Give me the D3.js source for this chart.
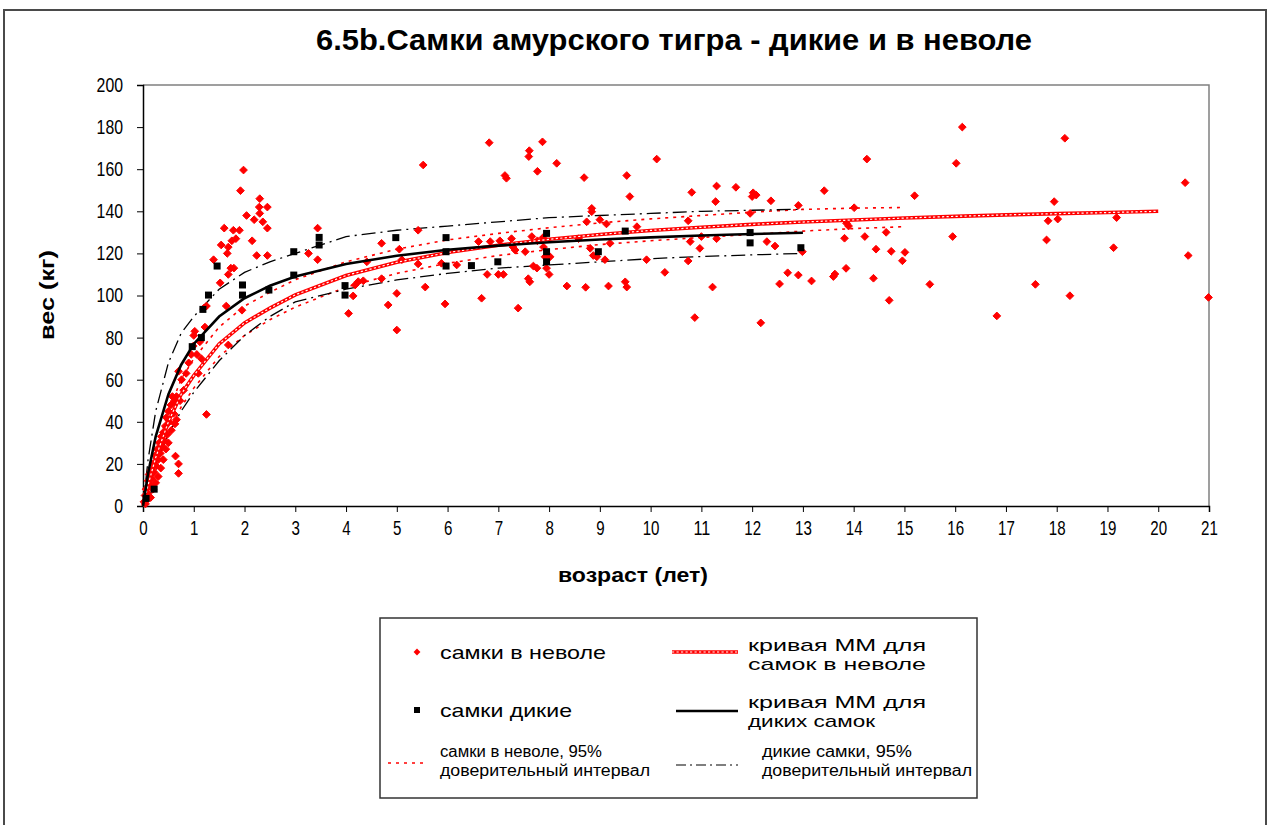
<!DOCTYPE html>
<html><head><meta charset="utf-8">
<script src="https://cdn.jsdelivr.net/npm/d3@7"></script>
<style>body{margin:0;background:#fff}svg{display:block;font-family:"Liberation Sans",Arial,sans-serif}</style>
</head><body><svg id="c" width="1270" height="825"></svg>
<script>
// ---- data ----
const xTicks = d3.range(0, 22);          // 0..21 years
const yTicks = [0,20,40,60,80,100,120,140,160,180,200];

// captive females: [age (years), weight (kg)]
const captivePoints = [
 [0.02,2],[0.04,5],[0.05,1],[0.06,8],[0.08,3],[0.1,12],[0.1,6],[0.12,15],[0.14,10],[0.15,4],
 [0.16,17],[0.18,13],[0.2,20],[0.2,8],[0.22,16],[0.24,24],[0.25,11],[0.26,19],[0.28,27],[0.3,22],
 [0.3,14],[0.32,30],[0.34,25],[0.35,18],[0.36,33],[0.38,28],[0.4,35],[0.4,22],[0.42,31],[0.44,38],
 [0.45,27],[0.46,42],[0.48,34],[0.5,45],[0.5,30],[0.52,40],[0.55,48],[0.56,36],[0.58,52],[0.6,44],
 [0.62,50],[0.63,39],[0.64,23.7],[0.66,41],[0.66,52],[0.7,20],[0.7,15.5],[0.7,64],[0.73,50],[0.76,60],
 [0.8,55],[0.85,63],[0.9,68],[0.95,72],[0.99,76],[1.02,83],[1.06,72],[1.09,63],[1.0,81],[1.12,78],
 [1.22,85],[1.25,43.5],[1.25,95],[1.2,94],[1.15,70],
 [1.98,159.6],[1.92,149.8],[2.30,146],[2.29,142],[2.45,142],[2.04,138],[2.30,139],[2.19,136],[2.36,135],[2.45,132],
 [1.60,132],[1.78,131],[1.90,131],[1.83,127],[1.75,126],[1.54,124],[1.68,123],[2.15,126],[1.66,120],[2.24,119],
 [2.45,119],[1.39,117],[1.73,113],[1.79,113],[1.68,110],[1.52,106],[1.64,95],[1.95,93],[1.68,76.5],
 [3.44,132],[3.26,120],[3.44,117],
 [4.05,91.5],[4.14,99.8],[4.18,105],[4.24,106.6],[4.34,107],[4.41,116],[4.70,124.8],[4.70,108],[4.83,95.5],[5.0,101],
 [5.0,83.6],[5.05,122],[5.10,117],[5.42,131],[5.42,115],[5.52,162],[5.56,104],[5.88,115.3],[5.95,96],[6.18,114.5],
 [6.61,125.6],[6.84,125.6],[7.03,126],[6.78,110],[7.0,110],[7.10,110],[6.67,98.7],[6.82,172.6],[7.13,157],[7.16,155.7],
 [7.26,127],[7.29,123],[7.33,121.6],[7.39,94],[7.53,120.8],[7.59,108],[7.62,106.5],[7.61,168.8],[7.60,166],[7.69,114],
 [7.76,113],[7.66,128],[7.77,126],[7.88,127.5],[7.77,159],[7.87,173],[7.89,123],[7.92,118.4],[8.02,118.4],[7.95,113],
 [8.0,110],[8.15,162.8],[8.35,104.5],[8.58,127],[8.69,156],[8.72,103.9],[8.74,135],[8.84,141.4],[8.84,139.8],[8.81,122.4],
 [8.87,119],[8.94,118.4],[9.0,136],[9.13,134],[9.20,124.8],[9.10,117],[9.17,104.5],[9.50,106.5],[9.53,104],[9.53,157],
 [9.59,147],[9.73,132.7],[9.92,117],[10.12,164.8],[10.28,111],[10.74,135.5],[10.74,116.4],[10.78,125.6],[10.81,149],[10.87,89.5],
 [10.97,122.4],[11.0,128],[11.22,104],[11.28,144.6],[11.30,152],[11.30,127],[11.68,151.4],[11.96,139],[12.02,148.8],[12.08,147.7],
 [12.0,147],[12.17,87],[12.29,125.6],[12.37,145],[12.45,123.5],[12.54,105.5],[12.70,110.8],[12.91,142.8],[12.91,109.7],[12.99,120.8],
 [13.17,106.9],[13.42,149.8],[13.60,109],[13.63,110.2],[13.85,112.9],[13.82,127.2],[13.86,134.3],[13.90,133],[14.01,141.7],[14.22,128],
 [14.26,164.8],[14.39,108.2],[14.44,122],[14.64,130],[14.70,97.7],[14.74,121],[14.96,116.5],[15.01,120.5],[15.20,147.4],[15.50,105.3],
 [15.95,128],[16.02,162.8],[16.14,180],[16.82,90.3],[17.58,105.3],[17.80,126.4],[17.83,135.5],[17.95,144.6],[18.02,136.3],[18.16,174.7],
 [18.26,99.9],[19.12,122.7],[19.18,137],[20.53,153.6],[20.59,119],[20.99,99.1]
];

// wild females: [age, weight]
const wildPoints = [
 [0.06,3.6],[0.22,8],[0.97,75.7],[1.15,80],[1.18,93.4],[1.29,100.2],[1.46,114],[1.96,105],[1.96,100.2],[2.48,102.6],
 [2.97,120.8],[2.97,109.7],[3.47,127.6],[3.47,124],[3.98,104.7],[3.98,100.2],[4.98,127.5],[5.97,127.5],[5.97,120.8],[5.97,114],
 [6.47,114.2],[6.99,116],[7.95,129.5],[7.95,120.8],[7.95,116],[8.97,120.8],[9.50,130.6],[11.96,129.9],[11.96,125],[12.96,122.7]
];

// fitted curves
const wildCurveAge   = [0,0.1,0.25,0.5,0.75,1,1.5,2,2.5,3,4,5,6,7,8,9,10,11,12,13];
const wildCurveW     = [0,15.5,33,53,67,77,90,98.7,104.6,109,115,118.9,121.7,123.7,125.3,126.6,127.6,128.5,129.2,129.8];
const wildUpperW     = [0,22,45,68,82,90,103,111,116,120,128,131,133,135,137,138,139,140,140.5,141];
const wildLowerW     = [0,8,20,34,45,54,69,81,90,97,103,107.4,110.5,113,114.5,116,117.5,118.5,119.3,120];

const capCurveAge    = [0,0.1,0.25,0.5,0.75,1,1.5,2,2.5,3,4,5,6,7,8,9,10,11,12,13,14,15,16,17,18,19,20];
const capCurveW      = [0,10,23,40,53,62,77,87,94,100.3,109.5,115.8,120.4,123.9,126.7,129,130.9,132.4,133.8,134.9,135.9,136.8,137.6,138.3,138.9,139.4,140];
const capCIAge       = [0,0.1,0.25,0.5,0.75,1,1.5,2,2.5,3,4,5,6,7,8,9,10,11,12,13,14,15];
const capUpperW      = [0,12,26,45,60,70,85,95,101.5,107.5,116,122,126.4,129.5,132.2,134.5,136.4,138,139.6,140.9,141.5,141.8];
const capLowerW      = [0,8,20,35,47,56,71,81,88.5,94.5,104,110.5,115.3,119,121.8,124.2,126,127.6,129,130.6,131.8,132.7];

// ---- drawing ----
const svg = d3.select("#c");
const x = d3.scaleLinear().domain([0,21]).range([143,1209]);
const y = d3.scaleLinear().domain([0,200]).range([506,85]);

// outer chart border
svg.append("rect").attr("x",4).attr("y",10).attr("width",1262).attr("height",830)
  .attr("fill","#fff").attr("stroke","#4a4a4a").attr("stroke-width",2);

// title
svg.append("text").attr("x",674).attr("y",50).attr("text-anchor","middle")
  .attr("font-size",29).attr("font-weight","bold")
  .attr("textLength",716).attr("lengthAdjust","spacingAndGlyphs")
  .text("6.5b.Самки амурского тигра - дикие и в неволе");

// plot frame (grey top/right)
svg.append("path").attr("d",`M${x(0)},${y(200)}H${x(21)}V${y(0)}`)
  .attr("fill","none").attr("stroke","#808080").attr("stroke-width",1.5);

// axes
const xAxis = d3.axisBottom(x).tickValues(xTicks).tickSize(6).tickFormat(d3.format("d"));
const gx = svg.append("g").attr("transform",`translate(0,${y(0)})`).call(xAxis);
gx.select(".domain").attr("stroke","#000").attr("stroke-width",1.5);
gx.selectAll(".tick line").attr("stroke","#000");
gx.selectAll(".tick text").attr("font-size",20).attr("font-family","Liberation Sans, Arial, sans-serif")
  .attr("dy","1.0em").attr("fill","#000")
  .attr("textLength",d=>String(d).length*8.4).attr("lengthAdjust","spacingAndGlyphs");

const yAxis = d3.axisLeft(y).tickValues(yTicks).tickSize(6).tickFormat(d3.format("d"));
const gy = svg.append("g").attr("transform",`translate(${x(0)},0)`).call(yAxis);
gy.select(".domain").attr("stroke","#000").attr("stroke-width",1.5);
gy.selectAll(".tick line").attr("stroke","#000");
gy.selectAll(".tick text").attr("font-size",20).attr("font-family","Liberation Sans, Arial, sans-serif")
  .attr("x",-20).attr("fill","#000")
  .attr("textLength",d=>String(d).length*8.8).attr("lengthAdjust","spacingAndGlyphs");

// axis titles
svg.append("text").attr("x",633).attr("y",582).attr("text-anchor","middle")
  .attr("font-size",21).attr("font-weight","bold")
  .attr("textLength",150).attr("lengthAdjust","spacingAndGlyphs").text("возраст (лет)");
svg.append("text").attr("transform",`translate(54,295) rotate(-90)`).attr("text-anchor","middle")
  .attr("font-size",21).attr("font-weight","bold")
  .attr("textLength",90).attr("lengthAdjust","spacingAndGlyphs").text("вес (кг)");

const plot = svg.append("g");
const line = (ages, ws) => d3.line().x((d,i)=>x(ages[i])).y((d,i)=>y(ws[i]))(ws);

// captive CI (red dotted)
[capUpperW, capLowerW].forEach(ws=>{
  plot.append("path").attr("d",line(capCIAge, ws)).attr("fill","none")
    .attr("stroke","#ff0000").attr("stroke-width",1.6).attr("stroke-dasharray","3,5");
});
// wild CI (black dash-dot)
[wildUpperW, wildLowerW].forEach(ws=>{
  plot.append("path").attr("d",line(wildCurveAge, ws)).attr("fill","none")
    .attr("stroke","#000").attr("stroke-width",1.3).attr("stroke-dasharray","14,5,2,5");
});

// captive points (red diamonds)
const diamond = d3.symbol().type(d3.symbolDiamond2).size(38);
plot.selectAll(".cap").data(captivePoints).join("path")
  .attr("transform",d=>`translate(${x(d[0])},${y(d[1])})`).attr("d",diamond)
  .attr("fill","#ff0000").attr("stroke","#ff0000").attr("stroke-width",1);

// captive MM curve (red line with little circles)
plot.append("path").attr("d",line(capCurveAge, capCurveW)).attr("fill","none")
  .attr("stroke","#ff0000").attr("stroke-width",3.6);
plot.append("path").attr("d",line(capCurveAge, capCurveW)).attr("fill","none")
  .attr("stroke","#fff").attr("stroke-width",1.2).attr("stroke-dasharray","2.2,2.3");

// wild MM curve
plot.append("path").attr("d",line(wildCurveAge, wildCurveW)).attr("fill","none")
  .attr("stroke","#000").attr("stroke-width",2.6);

// wild points (black squares)
plot.selectAll(".wild").data(wildPoints).join("rect")
  .attr("x",d=>x(d[0])-3.5).attr("y",d=>y(d[1])-3.5).attr("width",7).attr("height",7)
  .attr("fill","#000");

// ---- legend ----
const lg = svg.append("g");
const ltext = (tx, ty, fs, w, s) => lg.append("text").attr("x",tx).attr("y",ty).attr("font-size",fs)
  .attr("textLength",w).attr("lengthAdjust","spacingAndGlyphs").text(s);
lg.append("rect").attr("x",380).attr("y",618).attr("width",597).attr("height",180)
  .attr("fill","#fff").attr("stroke","#333").attr("stroke-width",1.5);
lg.append("path").attr("transform","translate(417,652)").attr("d",d3.symbol().type(d3.symbolDiamond2).size(30)())
  .attr("fill","#ff0000");
ltext(440,659,19,166,"самки в неволе");
lg.append("line").attr("x1",672).attr("x2",738).attr("y1",652).attr("y2",652)
  .attr("stroke","#ff0000").attr("stroke-width",3.6);
lg.append("line").attr("x1",672).attr("x2",738).attr("y1",652).attr("y2",652)
  .attr("stroke","#fff").attr("stroke-width",1.2).attr("stroke-dasharray","2.2,2.3");
ltext(748,651,17,178,"кривая ММ для");
ltext(748,670,17,178,"самок в неволе");

lg.append("rect").attr("x",414).attr("y",707).attr("width",6).attr("height",6).attr("fill","#000");
ltext(440,717,19,132,"самки дикие");
lg.append("line").attr("x1",676).attr("x2",738).attr("y1",711).attr("y2",711)
  .attr("stroke","#000").attr("stroke-width",2.6);
ltext(748,708,17,178,"кривая ММ для");
ltext(748,727,17,127,"диких самок");

lg.append("line").attr("x1",388).attr("x2",426).attr("y1",763).attr("y2",763)
  .attr("stroke","#ff0000").attr("stroke-width",1.4).attr("stroke-dasharray","3,5");
ltext(440,757,16,162,"самки в неволе, 95%");
ltext(440,776,16,210,"доверительный интервал");
lg.append("line").attr("x1",676).attr("x2",738).attr("y1",765).attr("y2",765)
  .attr("stroke","#000").attr("stroke-width",1.2).attr("stroke-dasharray","10,4,2,4");
ltext(762,757,16,150,"дикие самки, 95%");
ltext(762,776,16,210,"доверительный интервал");
</script>
</body></html>
